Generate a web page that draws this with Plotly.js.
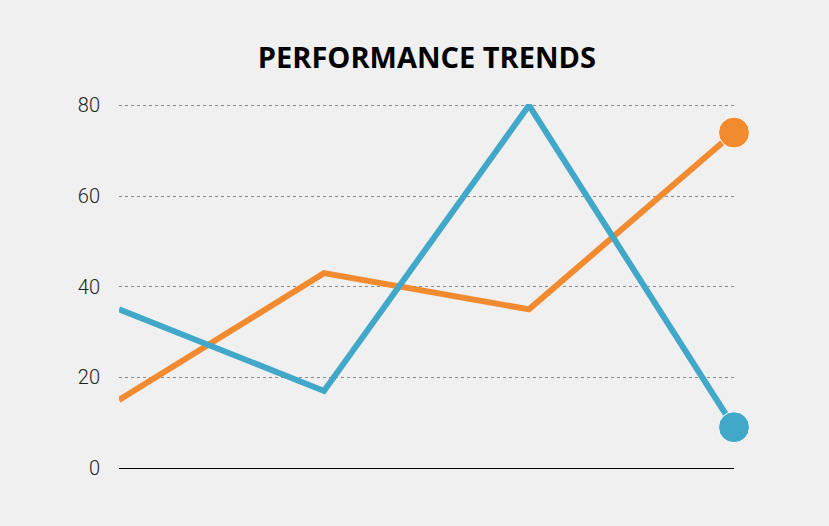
<!DOCTYPE html>
<html>
<head>
<script src="https://cdn.plot.ly/plotly-3.0.1.min.js"></script>
<style>html,body{margin:0;padding:0;background:#f0f0f0;}</style>
</head>
<body>
<div id="chart" style="width:829px;height:526px;"></div>
<script>
const periods = [0, 1, 2, 3];
const blueValues = [35, 17, 80, 9];
const orangeValues = [15, 43, 35, 74];

const makeTrace = (values, color) => ({
  x: periods,
  y: values,
  type: "scatter",
  mode: "lines+markers",
  line: { color: color, width: 6 },
  marker: {
    color: color,
    opacity: 1,
    size: values.map((_, i) => (i === values.length - 1 ? 31 : 0))
  },
  cliponaxis: false,
  hoverinfo: "skip"
});

const data = [makeTrace(orangeValues, "#f28a30"), makeTrace(blueValues, "#41a8c9")];

const layout = {
  width: 829,
  height: 526,
  margin: { t: 104, r: 95, b: 58, l: 119 },
  paper_bgcolor: "#f0f0f0",
  plot_bgcolor: "#f0f0f0",
  showlegend: false,
  title: {
    text: "<b>PERFORMANCE TRENDS</b>",
    font: { family: "Open Sans", size: 29, color: "#000", weight: 800 },
    x: 0.515,
    xanchor: "center",
    y: 0.89,
    yanchor: "middle"
  },
  xaxis: {
    range: [0, 3],
    showgrid: false,
    zeroline: false,
    showticklabels: false,
    showline: false
  },
  yaxis: {
    range: [0, 80.3],
    tickvals: [0, 20, 40, 60, 80],
    showgrid: true,
    gridcolor: "#888",
    griddash: "dot",
    gridwidth: 1,
    zeroline: true,
    zerolinecolor: "#000",
    zerolinewidth: 1,
    showline: false,
    ticks: "",
    ticklabelstandoff: 18,
    tickfont: { family: "Roboto", size: 20, color: "#222", weight: 300 }
  }
};

Plotly.newPlot("chart", data, layout, { displayModeBar: false, staticPlot: true });
</script>
</body>
</html>
